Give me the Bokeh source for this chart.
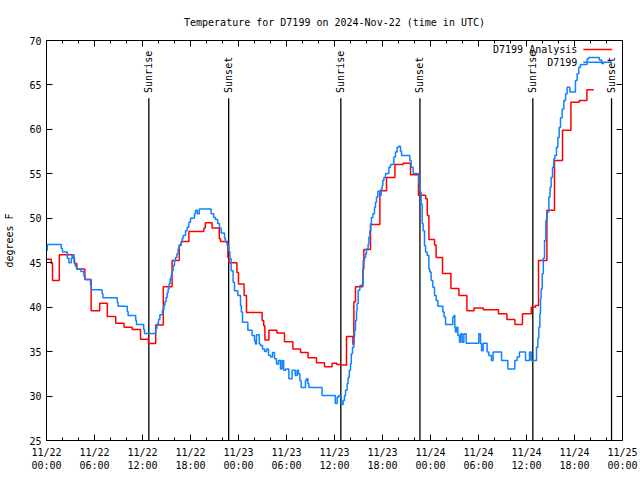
import math
from bokeh.plotting import figure
from bokeh.models import Range1d, LinearAxis, FixedTicker
from bokeh.embed import file_html
from bokeh.resources import INLINE
from bokeh.core.properties import value

title_text = "Temperature for D7199 on 2024-Nov-22 (time in UTC)"
y_label = "degrees F"
series_names = ["D7199 Analysis", "D7199"]

# hours since 2024-11-22 00:00 UTC
x_ticks = [0, 6, 12, 18, 24, 30, 36, 42, 48, 54, 60, 66, 72]
x_tick_labels = ["11/22\n00:00", "11/22\n06:00", "11/22\n12:00", "11/22\n18:00",
                 "11/23\n00:00", "11/23\n06:00", "11/23\n12:00", "11/23\n18:00",
                 "11/24\n00:00", "11/24\n06:00", "11/24\n12:00", "11/24\n18:00",
                 "11/25\n00:00"]
x_minor = list(range(0, 73, 2))
y_ticks = [25, 30, 35, 40, 45, 50, 55, 60, 65, 70]

red_t = [0.0, 0.6, 0.75, 1.6, 3.3, 3.5, 3.8, 4.8, 5.58, 6.65, 7.6, 8.65, 9.7, 10.7,
         11.75, 12.75, 13.65, 14.6, 15.7, 16.6, 16.85, 17.8, 19.67, 19.85, 20.7, 21.6,
         21.75, 22.67, 22.8, 23.8, 24.0, 24.7, 25.0, 26.95, 27.15, 27.3, 27.8, 28.8,
         29.75, 30.8, 31.75, 32.7, 33.75, 34.75, 35.7, 36.3, 36.75, 37.5, 38.3, 38.42,
         38.62, 39.55, 39.67, 40.5, 41.67, 42.5, 43.55, 44.58, 45.5, 46.5, 47.4, 47.6,
         47.8, 48.5, 48.7, 49.5, 50.55, 51.55, 52.55, 53.45, 54.6, 56.5, 57.55, 58.55,
         59.5, 60.6, 61.1, 61.5, 62.55, 63.5, 64.5, 65.55, 66.6, 67.55, 68.4]
red_v = [45.4, 44.9, 43.0, 45.9, 45.5, 44.9, 44.3, 43.1, 39.6, 40.45, 38.95, 38.2, 37.75, 37.5,
         36.4, 35.9, 38.0, 42.3, 45.25, 47.0, 47.4, 48.5, 48.9, 49.5, 48.9, 47.7,
         47.4, 45.6, 45.0, 43.9, 42.6, 41.3, 39.4, 38.5, 37.9, 36.3, 37.4, 37.1,
         36.1, 35.3, 34.9, 34.3, 33.75, 33.3, 33.7, 33.55, 33.5, 36.7, 35.8, 40.6,
         42.3, 44.3, 46.5, 49.3, 53.1, 54.6, 56.05, 56.2, 54.9, 52.6, 52.2, 50.3,
         47.6, 47.0, 45.6, 43.8, 42.1, 41.3, 39.6, 39.9, 39.7, 39.25, 38.6, 38.05,
         39.25, 40.0, 40.2, 45.25, 50.9, 56.5, 59.9, 63.05, 63.25, 64.45, 64.45]

blue_t = [0.0, 0.1, 1.85, 2.0, 2.6, 2.8, 3.1, 3.2, 3.45, 3.6, 3.75, 4.3, 4.67, 4.8, 5.5, 5.6,
          6.95, 7.05, 8.85, 8.95, 10.1, 10.2, 11.15, 11.25, 12.15, 12.25, 13.65, 13.8, 14.0,
          14.17, 14.5, 14.67, 14.8, 14.95, 15.08, 15.2, 15.33, 15.45, 15.58, 15.7, 15.83,
          16.0, 16.12, 16.3, 16.45, 16.58, 16.83, 16.95, 17.08, 17.38, 17.58, 17.8, 18.0,
          18.5, 18.62, 18.85, 19.1, 20.58, 20.9, 21.12, 21.4, 21.62, 21.83, 22.25, 22.38,
          22.58, 22.79, 22.92, 23.08, 23.33, 23.5, 23.92, 24.25, 24.35, 24.5, 25.17, 25.7,
          26.0, 26.12, 26.25, 26.6, 26.75, 27.0, 27.25, 27.5, 27.75, 28.0, 28.25, 28.5,
          28.75, 29.0, 29.25, 29.45, 29.65, 29.9, 30.3, 30.7, 31.1, 31.33, 31.5, 31.67,
          31.83, 32.37, 32.5, 32.67, 32.8, 34.45, 36.1, 36.33, 36.55, 36.75, 36.87, 37.08,
          37.25, 37.38, 37.58, 37.7, 37.85, 38.0, 38.1, 38.25, 38.42, 38.5, 38.62, 38.75,
          38.83, 38.96, 39.17, 39.46, 39.58, 39.75, 39.88, 40.0, 40.2, 40.3, 40.42, 40.54,
          40.62, 40.8, 41.0, 41.12, 41.25, 41.42, 41.67, 41.83, 41.96, 42.04, 42.17, 42.38,
          42.8, 43.0, 43.42, 43.62, 43.83, 44.04, 44.25, 44.38, 45.42, 45.58, 45.83, 46.33,
          46.54, 46.67, 46.83, 46.96, 47.08, 47.25, 47.38, 47.58, 47.79, 47.92, 48.08, 48.29,
          48.5, 48.71, 48.92, 49.54, 49.7, 49.88, 50.79, 50.92, 51.04, 51.12, 51.25, 51.42,
          51.62, 51.75, 51.96, 52.17, 52.46, 54.04, 54.25, 54.38, 54.58, 55.08, 55.29, 55.62,
          55.83, 56.88, 57.67, 58.54, 58.83, 59.12, 59.88, 60.38, 60.58, 61.25, 61.42, 61.54,
          61.67, 61.75, 61.83, 61.96, 62.1, 62.25, 62.42, 62.58, 62.79, 62.95, 63.08, 63.25,
          63.42, 63.54, 63.75, 63.92, 64.08, 64.25, 64.46, 64.67, 64.88, 65.08, 65.42, 66.12,
          66.33, 66.54, 66.75, 67.58, 67.79, 69.1, 69.4, 69.7]
blue_v = [46.4, 47.05, 46.6, 46.2, 45.5, 45.0, 45.5, 45.9, 45.0, 44.6, 44.3, 44.0, 43.5, 43.1, 42.5, 41.95,
          41.5, 41.05, 40.5, 40.1, 39.5, 39.05, 38.5, 38.05, 37.5, 37.05, 37.6, 38.1, 38.6,
          39.15, 39.7, 40.2, 40.6, 41.1, 41.6, 42.05, 42.6, 43.2, 43.6, 44.1, 44.7,
          45.25, 45.6, 46.0, 46.55, 46.95, 47.3, 47.7, 48.05, 48.6, 49.0, 49.55, 50.0,
          50.5, 50.9, 50.5, 51.05, 50.5, 50.1, 49.85, 49.4, 48.9, 48.35, 47.7, 47.3,
          46.9, 46.25, 45.45, 44.1, 42.8, 41.85, 41.3, 40.2, 39.45, 38.3, 37.4, 36.8,
          36.2, 35.85, 36.9, 35.85, 35.7, 35.3, 35.0, 35.3, 34.6, 34.4, 34.9, 34.2,
          33.6, 34.0, 33.05, 34.0, 32.9, 33.05, 31.95, 32.9, 32.3, 32.9, 32.5, 31.75,
          30.95, 31.75, 31.95, 31.4, 30.95, 30.05, 29.15, 29.9, 30.05, 29.9, 29.05, 29.5,
          30.05, 30.65, 31.4, 32.1, 32.9, 33.6, 34.75, 35.5, 36.6, 37.4, 38.5, 39.6,
          40.4, 41.9, 42.45, 42.6, 45.25, 45.6, 46.0, 46.55, 47.1, 47.9, 48.6, 49.4,
          50.1, 50.5, 51.25, 51.8, 52.4, 53.05, 52.55, 53.3, 53.7, 54.25, 54.6, 55.05,
          55.75, 56.05, 56.9, 57.45, 58.0, 58.1, 57.55, 57.05, 56.5, 55.75, 55.05, 55.0,
          53.9, 52.95, 51.6, 49.4, 48.6, 46.95, 46.2, 45.8, 44.3, 43.95, 43.0, 42.25,
          41.3, 40.75, 40.1, 39.45, 38.9, 38.05, 38.9, 39.05, 37.75, 37.2, 37.75, 36.8,
          36.05, 37.0, 36.05, 37.0, 35.95, 37.0, 35.9, 35.1, 35.95, 34.95, 34.55, 34.0,
          34.95, 34.0, 33.05, 34.0, 34.4, 34.95, 34.0, 34.95, 34.0, 35.5, 36.5, 37.75,
          39.25, 41.0, 42.05, 43.75, 45.5, 47.5, 49.75, 50.7, 52.4, 53.5, 54.6, 55.75,
          56.7, 57.05, 58.0, 59.1, 60.2, 61.3, 62.3, 63.25, 64.0, 64.75, 64.2, 65.5,
          66.25, 67.0, 67.3, 67.95, 68.1, 67.8, 67.4, 67.4]

sunrise_t = [12.79, 36.79, 60.79]
sunset_t = [22.77, 46.68, 70.63]
sun_line_top = 63.5
sun_label_y = 64.1

legend_text_x = 66.35
legend_line_x0 = 67.1
legend_line_x1 = 70.7
legend_y = [69.0, 67.55]

FONT = "DejaVu Sans Mono"
FS = "10px"
RED = "#ff0000"
BLUE = "#1082ff"

p = figure(frame_width=576, frame_height=400,
           x_range=Range1d(0, 72), y_range=Range1d(25, 70),
           output_backend="svg", toolbar_location=None,
           min_border_left=46, min_border_right=16, min_border_top=40, min_border_bottom=38,
           title=title_text)
p.background_fill_color = "white"
p.border_fill_color = "white"
p.outline_line_color = "black"
p.outline_line_width = 1
p.grid.visible = False

p.title.align = "center"
p.title.text_font = FONT
p.title.text_font_size = FS
p.title.text_font_style = "normal"
p.title.text_color = "black"
p.title.standoff = 25

xt = FixedTicker(ticks=x_ticks, minor_ticks=x_minor)
yt = FixedTicker(ticks=y_ticks, minor_ticks=[])

xa = p.xaxis[0]
xa.ticker = xt
xa.major_label_overrides = dict(zip(x_ticks, x_tick_labels))
ya = p.yaxis[0]
ya.ticker = yt
ya.axis_label = y_label

for ax in (xa, ya):
    ax.axis_line_color = None
    ax.major_tick_in = 6
    ax.major_tick_out = 0
    ax.minor_tick_in = 3
    ax.minor_tick_out = 0
    ax.major_tick_line_color = "black"
    ax.minor_tick_line_color = "black"
    ax.major_label_text_font = FONT
    ax.major_label_text_font_size = FS
    ax.major_label_text_color = "black"
    ax.axis_label_text_font = FONT
    ax.axis_label_text_font_size = FS
    ax.axis_label_text_font_style = "normal"
    ax.axis_label_text_color = "black"
xa.major_label_standoff = 6
ya.major_label_standoff = 5
ya.axis_label_standoff = 11

top_ax = LinearAxis(ticker=FixedTicker(ticks=x_ticks, minor_ticks=x_minor),
                    axis_line_color=None, major_tick_in=6, major_tick_out=0,
                    minor_tick_in=3, minor_tick_out=0, major_label_text_color=None,
                    major_label_text_font_size="1px", major_label_standoff=0)
p.add_layout(top_ax, "above")
right_ax = LinearAxis(ticker=FixedTicker(ticks=y_ticks, minor_ticks=[]),
                      axis_line_color=None, major_tick_in=6, major_tick_out=0,
                      minor_tick_in=0, minor_tick_out=0, major_label_text_color=None,
                      major_label_text_font_size="8px", major_label_standoff=0)
p.add_layout(right_ax, "right")

# sunrise / sunset markers
sun_t = sunrise_t + sunset_t
sun_lab = ["Sunrise"] * len(sunrise_t) + ["Sunset"] * len(sunset_t)
p.segment(x0=sun_t, y0=[25] * len(sun_t), x1=sun_t, y1=[sun_line_top] * len(sun_t),
          line_color="black", line_width=1.3)
p.text(x=sun_t, y=[sun_label_y] * len(sun_t), text=sun_lab, angle=math.pi / 2,
       text_align="left", text_baseline="middle", text_font=value(FONT),
       text_font_size=FS, text_color="black")

# series
p.step(red_t, red_v, mode="after", line_color=RED, line_width=1.5)
p.step(blue_t, blue_v, mode="after", line_color=BLUE, line_width=1.5)

# legend (text to the left of the sample line)
p.text(x=[legend_text_x] * 2, y=legend_y, text=series_names, text_align="right",
       text_baseline="middle", text_font=value(FONT), text_font_size=FS, text_color="black")
p.segment(x0=[legend_line_x0] * 2, y0=legend_y, x1=[legend_line_x1] * 2, y1=legend_y,
          line_color=[RED, BLUE], line_width=1.5)

open("out.html", "w").write(file_html(p, INLINE))
